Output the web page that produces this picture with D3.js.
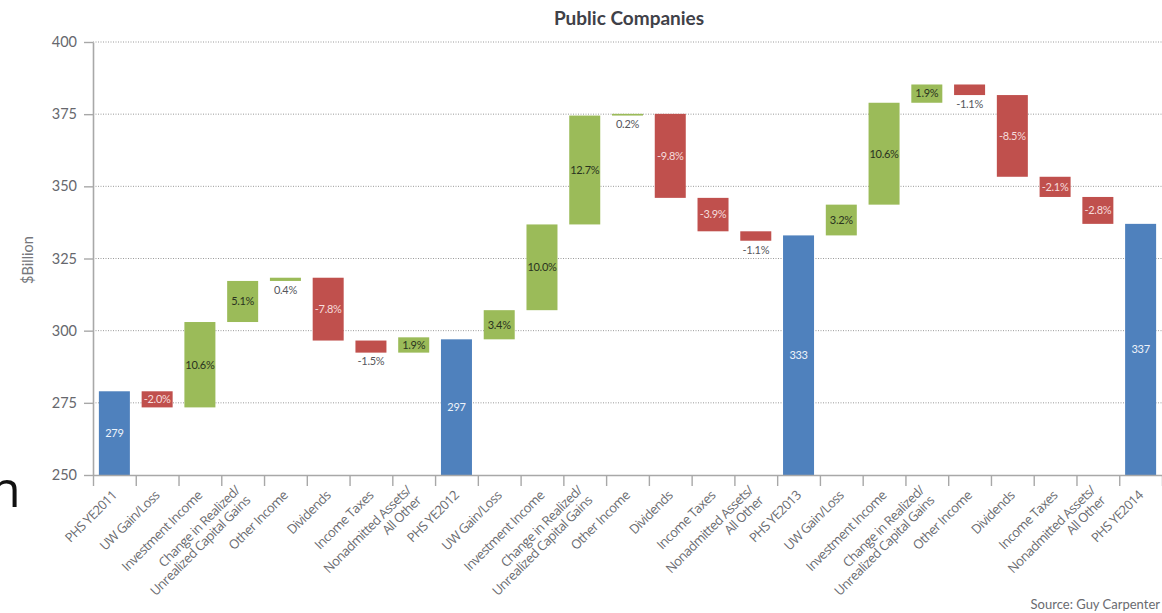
<!DOCTYPE html>
<html>
<head>
<meta charset="utf-8">
<script src="https://cdn.jsdelivr.net/npm/d3@7"></script>
<style>
  html, body { margin: 0; padding: 0; background: #fff; }
  svg { display: block; }
</style>
</head>
<body>
<div id="chart"></div>
<script>
// Surplus walk for public companies, YE2011 → YE2014 ($ billion)
const categories = [
  "PHS YE2011", "UW Gain/Loss", "Investment Income", "Change in Realized/\nUnrealized Capital Gains",
  "Other Income", "Dividends", "Income Taxes", "Nonadmitted Assets/\nAll Other",
  "PHS YE2012", "UW Gain/Loss", "Investment Income", "Change in Realized/\nUnrealized Capital Gains",
  "Other Income", "Dividends", "Income Taxes", "Nonadmitted Assets/\nAll Other",
  "PHS YE2013", "UW Gain/Loss", "Investment Income", "Change in Realized/\nUnrealized Capital Gains",
  "Other Income", "Dividends", "Income Taxes", "Nonadmitted Assets/\nAll Other",
  "PHS YE2014"
];
// "total" entries are year-end surplus in $B; "change" entries are % of the prior year-end surplus
const kinds = [
  "total", "change", "change", "change", "change", "change", "change", "change",
  "total", "change", "change", "change", "change", "change", "change", "change",
  "total", "change", "change", "change", "change", "change", "change", "change",
  "total"
];
const values = [
  279, -2.0, 10.6, 5.1, 0.4, -7.8, -1.5, 1.9,
  297, 3.4, 10.0, 12.7, 0.2, -9.8, -3.9, -1.1,
  333, 3.2, 10.6, 1.9, -1.1, -8.5, -2.1, -2.8,
  337
];
const yTicks = [250, 275, 300, 325, 350, 375, 400];

const W = 1162, H = 613;
const margin = { top: 42, right: 0, bottom: 138, left: 93 };
const colors = { total: "#4f81bd", up: "#9bbb59", down: "#c0504d" };

// Build floating segments
let base = 0, level = 0;
const bars = categories.map((c, i) => {
  if (kinds[i] === "total") {
    base = values[i]; level = values[i];
    return { i, kind: "total", y0: 250, y1: values[i], label: String(values[i]) };
  }
  const delta = base * values[i] / 100;
  const from = level; level += delta;
  return {
    i, kind: values[i] >= 0 ? "up" : "down",
    y0: Math.min(from, level), y1: Math.max(from, level),
    label: values[i].toFixed(1) + "%"
  };
});

const svg = d3.select("#chart").append("svg").attr("width", W).attr("height", H);

const x = d3.scaleBand().domain(d3.range(categories.length))
  .range([margin.left, W - margin.right]).paddingInner(0.275).paddingOuter(0.1375);
const xEdge = d3.scaleLinear().domain([0, categories.length]).range([margin.left, W - margin.right]);
const y = d3.scaleLinear().domain([250, 400]).range([H - margin.bottom, margin.top]);

// Title
svg.append("text").attr("x", 629).attr("y", 25).attr("text-anchor", "middle")
  .attr("font-family", "Lato, sans-serif").attr("font-weight", 700).attr("font-size", 19)
  .attr("fill", "#3f4148").text("Public Companies");

// Dotted gridlines
svg.append("g").selectAll("line").data(yTicks.filter(t => t > 250)).join("line")
  .attr("x1", margin.left).attr("x2", W - margin.right)
  .attr("y1", d => y(d)).attr("y2", d => y(d))
  .attr("stroke", "#9a9a9a").attr("stroke-width", 1).attr("stroke-dasharray", "1,1.5");

// Y axis
const yAxis = svg.append("g").attr("transform", `translate(${margin.left},0)`)
  .call(d3.axisLeft(y).tickValues(yTicks).tickSize(9).tickPadding(7).tickSizeOuter(0));
yAxis.select(".domain").attr("stroke", "#a8a8a8").attr("stroke-width", 1.6);
yAxis.selectAll(".tick line").attr("stroke", "#a8a8a8").attr("stroke-width", 1.4);
yAxis.selectAll(".tick text").attr("font-family", "Lato, sans-serif").attr("font-size", 14.5)
  .attr("fill", "#66676d");

svg.append("text").attr("transform", "translate(33,260) rotate(-90)").attr("text-anchor", "middle")
  .attr("font-family", "Lato, sans-serif").attr("font-size", 14.5).attr("fill", "#75767b")
  .text("$Billion");

// Bars
svg.append("g").selectAll("rect").data(bars).join("rect")
  .attr("x", d => x(d.i)).attr("width", x.bandwidth())
  .attr("y", d => y(d.y1)).attr("height", d => y(d.y0) - y(d.y1))
  .attr("fill", d => colors[d.kind]);

// X axis with ticks on category boundaries
const xAxis = svg.append("g").attr("transform", `translate(0,${H - margin.bottom})`)
  .call(d3.axisBottom(xEdge).tickValues(d3.range(categories.length + 1)).tickSize(11)
    .tickSizeOuter(0).tickFormat(""));
xAxis.select(".domain").attr("stroke", "#a8a8a8").attr("stroke-width", 1.6);
xAxis.selectAll(".tick line").attr("stroke", "#a8a8a8").attr("stroke-width", 1.4);

// Value labels
const lbl = svg.append("g").attr("font-family", "Lato, sans-serif").attr("font-size", 11)
  .attr("letter-spacing", "-0.3").attr("text-anchor", "middle");
lbl.selectAll("text").data(bars).join("text")
  .attr("x", d => x(d.i) + x.bandwidth() / 2)
  .attr("y", d => {
    const top = y(d.y1), bot = y(d.y0);
    return (bot - top) < 14 ? bot + 9 : (top + bot) / 2;
  })
  .attr("dy", "0.35em")
  .attr("fill", d => {
    const h = y(d.y0) - y(d.y1);
    if (h < 14) return "#55565c";
    return d.kind === "up" ? "#2a331f" : (d.kind === "down" ? "#f6dcdc" : "#eef3fa");
  })
  .text(d => d.label);

// Category labels, rotated
const cat = svg.append("g").attr("font-family", "'Open Sans', sans-serif").attr("font-size", 13)
  .attr("letter-spacing", "-0.55").attr("fill", "#6a6b70");
categories.forEach((c, i) => {
  const lines = c.split("\n");
  const cx = x(i) + x.bandwidth() / 2;
  const t = cat.append("text").attr("transform", `translate(${cx},493) rotate(-45)`)
    .attr("text-anchor", "end");
  lines.forEach((ln, k) => {
    t.append("tspan").attr("x", 0)
      .attr("dy", k === 0 ? (lines.length > 1 ? "-0.2em" : "0.35em") : "1.1em")
      .text(ln);
  });
});

// Source note
svg.append("text").attr("x", 1160).attr("y", 609).attr("text-anchor", "end")
  .attr("font-family", "Lato, sans-serif").attr("font-size", 13).attr("fill", "#6a6b70")
  .text("Source: Guy Carpenter");

// Stray glyph at the left edge
svg.append("text").attr("x", -10).attr("y", 507)
  .attr("font-family", "'Open Sans', sans-serif").attr("font-size", 50).attr("fill", "#111")
  .text("n");
</script>
</body>
</html>
